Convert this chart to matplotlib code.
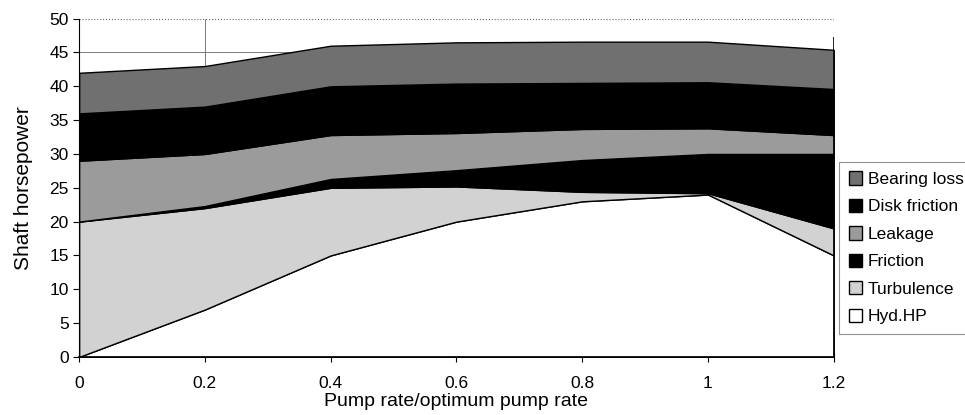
import matplotlib.pyplot as plt

plt.rcParams['font.family'] = ['Liberation Sans', 'DejaVu Sans']

x = [0, 0.2, 0.4, 0.6, 0.8, 1.0, 1.2]

# stacked components (shaft horsepower)
hyd_hp = [0, 7, 15, 20, 23, 24, 15]
turbulence = [20, 15, 10, 5.2, 1.4, 0.2, 4]
friction = [0, 0.3, 1.3, 2.4, 4.7, 5.8, 11]
leakage = [9, 7.7, 6.5, 5.5, 4.6, 3.8, 2.8]
disk_friction = [7, 7, 7.2, 7.3, 6.8, 6.8, 6.8]
bearing_loss = [6, 6, 6, 6.1, 6.1, 6, 5.8]

labels = ["Hyd.HP", "Turbulence", "Friction", "Leakage", "Disk friction", "Bearing loss"]
colors = ["#ffffff", "#d2d2d2", "#000000", "#9b9b9b", "#000000", "#707070"]

fig = plt.figure(figsize=(9.65, 4.15), dpi=100)
ax = fig.add_axes([0.082, 0.14, 0.782, 0.815])

# gridlines sit behind the areas
ax.hlines([5, 10, 15, 20, 25, 30, 35, 40, 45], 0, 1.2, color='#666666', linewidth=0.6, zorder=0)
ax.hlines(50, 0, 1.2, color='#666666', linewidth=0.8, linestyle=':', zorder=0)
ax.vlines(0.2, 0, 50, color='#666666', linewidth=0.6, zorder=0)

polys = ax.stackplot(x, hyd_hp, turbulence, friction, leakage, disk_friction, bearing_loss,
                     colors=colors, edgecolor='black', linewidth=1.0, labels=labels, zorder=2)

ax.set_xlim(0, 1.2)
ax.set_ylim(0, 50)
ax.set_xticks(x)
ax.set_xticklabels(["0", "0.2", "0.4", "0.6", "0.8", "1", "1.2"])
ax.set_yticks(range(0, 51, 5))
ax.tick_params(axis='both', labelsize=12.5, direction='out', length=4, width=0.8)
ax.tick_params(axis='x', direction='inout', length=7, pad=10)

for side in ['top', 'right']:
    ax.spines[side].set_visible(False)
ax.spines['bottom'].set_linewidth(1.2)
ax.spines['left'].set_linewidth(0.8)
ax.vlines(1.2, 0, 47.3, color='black', linewidth=1.2, zorder=3)

ax.set_xlabel("Pump rate/optimum pump rate", fontsize=14, labelpad=2)
ax.set_ylabel("Shaft horsepower", fontsize=15, labelpad=12)

handles, labs = ax.get_legend_handles_labels()
leg = ax.legend(handles[::-1], labs[::-1], loc='upper left', bbox_to_anchor=(1.007, 0.577),
                fontsize=12.5, frameon=True, fancybox=False, edgecolor='#777777',
                handlelength=0.8, handleheight=0.8, handletextpad=0.3,
                labelspacing=0.68, borderpad=0.55, borderaxespad=0)
leg.get_frame().set_linewidth(0.8)

fig.savefig("out.png", dpi=100)
